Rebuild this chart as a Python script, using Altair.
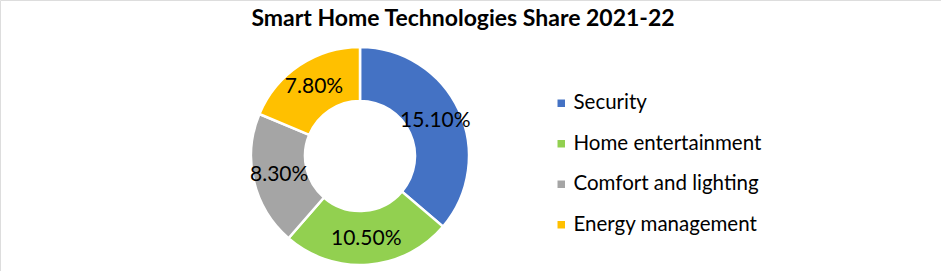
import altair as alt
import pandas as pd

categories = ["Security", "Home entertainment", "Comfort and lighting", "Energy management"]
values = [15.10, 10.50, 8.30, 7.80]
labels = ["15.10%", "10.50%", "8.30%", "7.80%"]
colors = ["#4472C4", "#92D050", "#A5A5A5", "#FFC000"]
title_text = "Smart Home Technologies Share 2021-22"

df = pd.DataFrame({
    "category": categories,
    "value": values,
    "label": labels,
    "order": list(range(len(categories))),
})

CX, CY = 360, 156
FONT = "Lato"

base = alt.Chart(df).encode(
    theta=alt.Theta("value:Q", stack=True),
    order=alt.Order("order:Q"),
)

arcs = base.mark_arc(radius=109, radius2=55, stroke="white", strokeWidth=2.5).encode(
    x=alt.value(CX),
    y=alt.value(CY),
    color=alt.Color(
        "category:N",
        scale=alt.Scale(domain=categories, range=colors),
        legend=alt.Legend(
            title=None,
            orient="none",
            legendX=551,
            legendY=93,
            symbolType="square",
            symbolSize=56,
            symbolStrokeWidth=0,
            labelFont=FONT,
            labelFontSize=20.5,
            labelColor="#000000",
            labelOffset=2,
            labelLimit=0,
            rowPadding=19.5,
            padding=0,
        ),
    ),
)

texts = base.mark_text(radius=83, font=FONT, fontSize=21, color="#000000").encode(
    x=alt.value(CX),
    y=alt.value(CY),
    text="label:N",
)

title = alt.Chart(pd.DataFrame({"t": [title_text]})).mark_text(
    font=FONT, fontSize=23, fontWeight="bold", color="#000000", baseline="alphabetic", align="center"
).encode(x=alt.value(463), y=alt.value(26), text="t:N")

chart = alt.layer(arcs, texts, title).properties(
    width=941, height=271,
    autosize=alt.AutoSizeParams(type="none"),
    padding=0,
).configure_view(stroke=None).configure(background="white")

chart.save("out.html", embed_options={"renderer": "svg", "actions": False})
